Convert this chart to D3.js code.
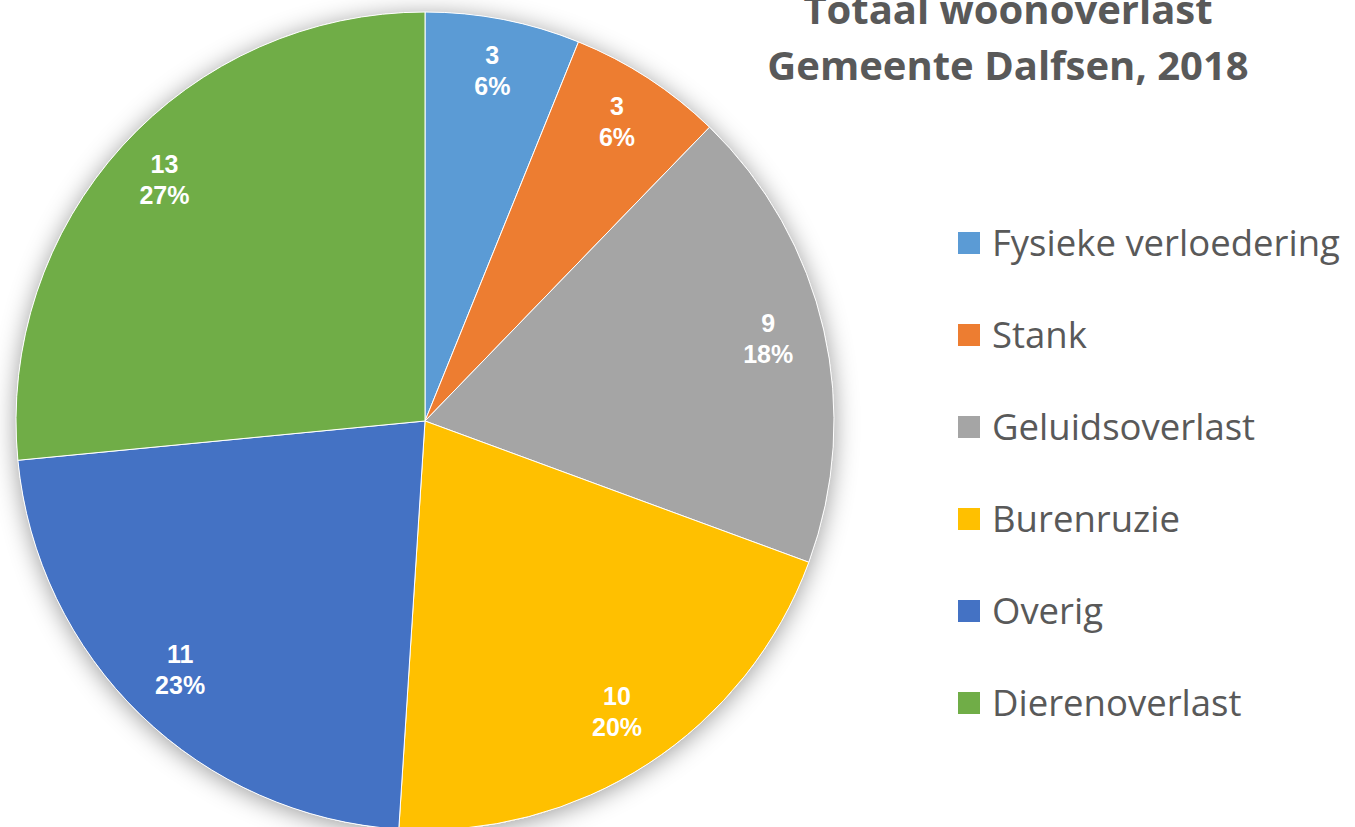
<!DOCTYPE html>
<html>
  <head>
    <style>
      body,
      html {
        margin: 0;
        padding: 0;
        background: #fff;
      }
    </style>
  </head>
  <body>
    <svg id="svg" width="1355" height="827"></svg>
    <script src="https://cdn.jsdelivr.net/npm/d3@7"></script>
    <script>
      const categories = [
        'Fysieke verloedering',
        'Stank',
        'Geluidsoverlast',
        'Burenruzie',
        'Overig',
        'Dierenoverlast',
      ];
      const counts = [3, 3, 9, 10, 11, 13];
      const percentLabels = ['6%', '6%', '18%', '20%', '23%', '27%'];
      const colors = ['#5B9BD5', '#ED7D31', '#A5A5A5', '#FFC000', '#4472C4', '#70AD47'];
      const titleLines = ['Totaal woonoverlast', 'Gemeente Dalfsen, 2018'];

      const cx = 425;
      const cy = 421;
      const radius = 409;
      const labelRadius = 352;

      const svg = d3.select('#svg');

      const defs = svg.append('defs');
      defs
        .append('filter')
        .attr('id', 'shadow')
        .attr('x', '-20%')
        .attr('y', '-20%')
        .attr('width', '140%')
        .attr('height', '140%')
        .append('feDropShadow')
        .attr('dx', 0)
        .attr('dy', 3)
        .attr('stdDeviation', 12)
        .attr('flood-color', '#000')
        .attr('flood-opacity', 0.4);

      const pie = d3.pie().sort(null).value((d) => d.count);
      const arcs = pie(categories.map((c, i) => ({ name: c, count: counts[i], pct: percentLabels[i], color: colors[i] })));

      const arc = d3.arc().innerRadius(0).outerRadius(radius);
      const labelArc = d3.arc().innerRadius(labelRadius).outerRadius(labelRadius);

      const g = svg.append('g').attr('transform', `translate(${cx}, ${cy})`);

      g.append('circle').attr('r', radius).attr('fill', '#fff').attr('filter', 'url(#shadow)');

      g.selectAll('path.slice')
        .data(arcs)
        .enter()
        .append('path')
        .attr('class', 'slice')
        .attr('d', arc)
        .attr('fill', (d) => d.data.color)
        .attr('stroke', '#fff')
        .attr('stroke-width', 1);

      const labels = g
        .selectAll('text.lbl')
        .data(arcs)
        .enter()
        .append('text')
        .attr('class', 'lbl')
        .attr('transform', (d) => `translate(${labelArc.centroid(d)})`)
        .attr('text-anchor', 'middle')
        .attr('font-family', 'Liberation Sans, Arial, sans-serif')
        .attr('font-weight', 'bold')
        .attr('font-size', 25)
        .attr('fill', '#fff');
      labels.append('tspan').attr('x', 0).attr('y', -11).text((d) => d.data.count);
      labels.append('tspan').attr('x', 0).attr('y', 20).text((d) => d.data.pct);

      // title
      const title = svg
        .append('text')
        .attr('text-anchor', 'middle')
        .attr('font-family', 'Open Sans, sans-serif')
        .attr('font-weight', 'bold')
        .attr('font-size', 40)
        .attr('fill', '#595959');
      title.append('tspan').attr('x', 1008).attr('y', 24).text(titleLines[0]);
      title.append('tspan').attr('x', 1008).attr('y', 80).text(titleLines[1]);

      // legend
      const legendY = d3.scalePoint().domain(categories).range([243, 703]);
      const legend = svg
        .selectAll('g.legend')
        .data(arcs)
        .enter()
        .append('g')
        .attr('class', 'legend')
        .attr('transform', (d) => `translate(958, ${legendY(d.data.name)})`);
      legend
        .append('rect')
        .attr('x', 0)
        .attr('y', -11)
        .attr('width', 22)
        .attr('height', 22)
        .attr('fill', (d) => d.data.color);
      legend
        .append('text')
        .attr('x', 34)
        .attr('y', 13)
        .attr('font-family', 'Open Sans, sans-serif')
        .attr('font-size', 36.5)
        .attr('fill', '#595959')
        .text((d) => d.data.name);
    </script>
  </body>
</html>
